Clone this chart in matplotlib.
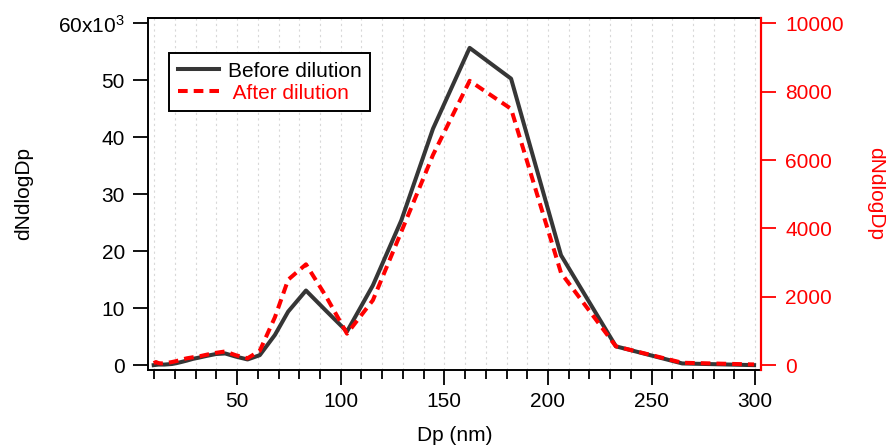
import numpy as np
import matplotlib
matplotlib.use('Agg')
from matplotlib import pyplot as plt
from matplotlib.ticker import MultipleLocator, FixedLocator, FuncFormatter

plt.rcParams['font.family'] = ['Liberation Sans', 'DejaVu Sans']
plt.rcParams['mathtext.default'] = 'regular'

# particle diameter (nm) and size distributions
dp = [9.7, 10.8, 12.0, 13.4, 14.9, 16.6, 18.5, 20.7, 23.0, 25.7, 28.6, 31.9,
      35.6, 39.7, 44.2, 49.3, 55.0, 60.9, 68.2, 74.6, 83.2, 93.0, 103.0, 115.5,
      129.2, 144.5, 162.2, 182.2, 206.3, 232.8, 264.8, 299.5]
before_k = [0.0, 0.05, 0.1, 0.1, 0.1, 0.15, 0.2, 0.35, 0.55, 0.8, 1.1, 1.35,
            1.65, 1.95, 2.05, 1.5, 1.0, 1.75, 5.3, 9.4, 13.1, 9.5, 5.9, 14.0,
            25.4, 41.5, 55.7, 50.3, 19.3, 3.3, 0.3, 0.0]
after = [60, 90, 60, 50, 60, 70, 90, 120, 160, 200, 230, 260,
         310, 360, 400, 290, 200, 420, 1400, 2500, 2950, 2000, 920, 1900,
         3900, 6150, 8320, 7500, 2700, 550, 70, 20]
before = np.array(before_k) * 1000

left_ticks = [0, 10000, 20000, 30000, 40000, 50000, 60000]
right_ticks = [0, 2000, 4000, 6000, 8000, 10000]

fs = 15
black = '#363636'

fig = plt.figure(figsize=(8.86, 4.47), dpi=100)
ax = fig.add_axes([0.1674, 0.1723, 0.6912, 0.7881])
ax2 = ax.twinx()

l1, = ax.plot(dp, before, color=black, lw=2.9, label='Before dilution',
              solid_joinstyle='round')
l2, = ax2.plot(dp, after, color='red', lw=2.9, ls=(0, (2.4, 1.5)),
               dash_capstyle='butt', label=' After dilution')

ax.set_xlim(7.1, 302.7)
ax.set_ylim(-850, 61000)
ax2.set_ylim(-142, 10167)

ax.xaxis.set_major_locator(MultipleLocator(50))
ax.xaxis.set_minor_locator(MultipleLocator(10))
ax.yaxis.set_major_locator(FixedLocator(left_ticks))
ax.yaxis.set_major_formatter(FuncFormatter(
    lambda v, p: '60x10$^{3}$' if v == 60000 else '%d' % (v / 1000)))
ax2.yaxis.set_major_locator(FixedLocator(right_ticks))

ax.grid(True, axis='x', which='both', color='#d8d8d8', lw=0.8, ls=(0, (2, 3)))
ax.set_axisbelow(True)

ax.tick_params(axis='both', which='major', direction='out', length=10.8,
               width=1.3, labelsize=fs, pad=6, color='black')
ax.tick_params(axis='x', which='minor', direction='out', length=6.7, width=1.3)
ax.tick_params(axis='x', pad=5)
ax2.tick_params(axis='y', which='major', direction='out', length=10.8,
                width=1.3, labelsize=fs, pad=7, colors='red')

for s in ['left', 'bottom', 'top']:
    ax.spines[s].set_linewidth(1.4)
ax.spines['right'].set_visible(False)
for s in ['left', 'bottom', 'top']:
    ax2.spines[s].set_visible(False)
ax2.spines['right'].set_color('red')
ax2.spines['right'].set_linewidth(1.6)

ax.set_xlabel('Dp (nm)', fontsize=fs, va='center')
ax.xaxis.set_label_coords(0.5, -0.187)
ax.set_ylabel('dNdlogDp', fontsize=fs, va='center')
ax.yaxis.set_label_coords(-0.203, 0.5)
ax2.set_ylabel('dNdlogDp', fontsize=fs, color='red', rotation=270, va='center')
ax2.yaxis.set_label_coords(1.188, 0.5)

leg = ax2.legend(handles=[l1, l2], loc='upper left',
                 bbox_to_anchor=(0.0343, 0.899), borderaxespad=0,
                 fontsize=fs, fancybox=False, framealpha=1, edgecolor='black',
                 handlelength=2.0, handletextpad=0.4, borderpad=0.4,
                 labelspacing=0.15)
leg.get_frame().set_linewidth(1.4)
leg.get_texts()[1].set_color('red')

fig.savefig('out.png', dpi=100)
